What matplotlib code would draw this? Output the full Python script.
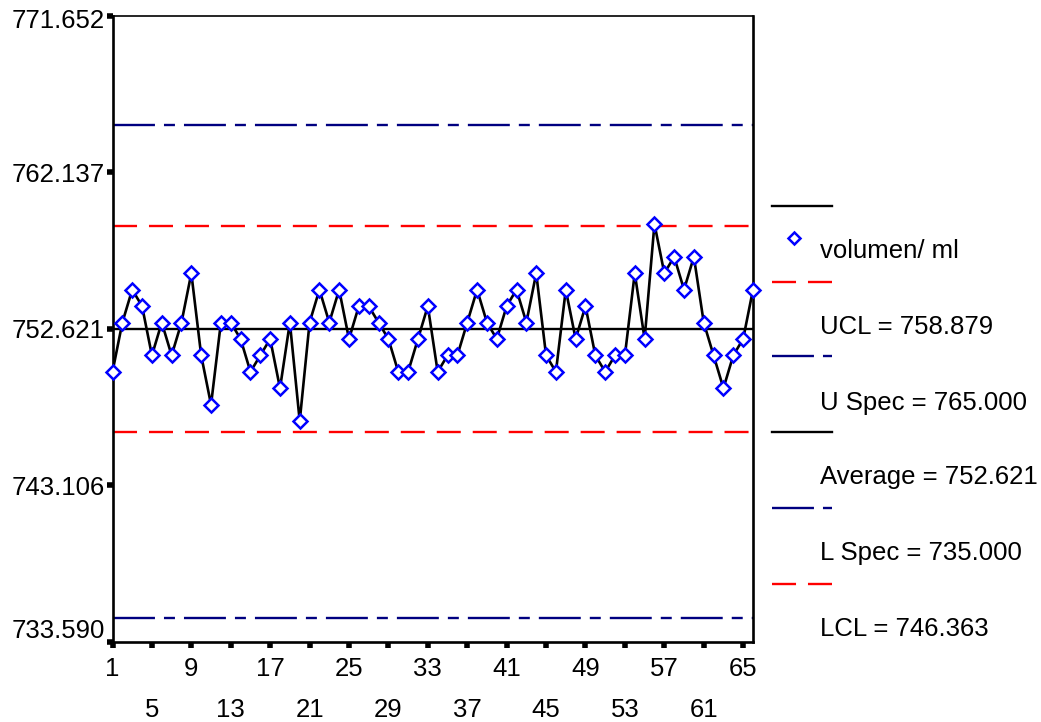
import matplotlib
matplotlib.use('Agg')
import matplotlib.pyplot as plt
from matplotlib.transforms import ScaledTranslation

plt.rcParams['font.family'] = ['Liberation Sans', 'DejaVu Sans']
plt.rcParams['lines.scale_dashes'] = False

# ---- data ----
samples = list(range(1, 67))
volumen = [750, 753, 755, 754, 751, 753, 751, 753, 756, 751,
           748, 753, 753, 752, 750, 751, 752, 749, 753, 747,
           753, 755, 753, 755, 752, 754, 754, 753, 752, 750,
           750, 752, 754, 750, 751, 751, 753, 755, 753, 752,
           754, 755, 753, 756, 751, 750, 755, 752, 754, 751,
           750, 751, 751, 756, 752, 759, 756, 757, 755, 757,
           753, 751, 749, 751, 752, 755]
ucl = 758.879
lcl = 746.363
average = 752.621
u_spec = 765.000
l_spec = 735.000
y_ticks = [733.590, 743.106, 752.621, 762.137, 771.652]
x_row1 = [1, 9, 17, 25, 33, 41, 49, 57, 65]
x_row2 = [5, 13, 21, 29, 37, 45, 53, 61]
series_label = "volumen/ ml"
ucl_label = "UCL = 758.879"
uspec_label = "U Spec = 765.000"
avg_label = "Average = 752.621"
lspec_label = "L Spec = 735.000"
lcl_label = "LCL = 746.363"

# ---- styles ----
NAVY = '#000080'
RED = '#ff0000'
BLUE = '#0000ff'
dashdot = (0, (30.2, 6.5, 7.9, 6.5))
dashed = (0, (17.3, 8.6))
FS = 18.5
LW = 1.7

W, H = 1041, 722
fig = plt.figure(figsize=(W / 100, H / 100), dpi=100)
ax = fig.add_axes([112.5 / W, (H - 641.5) / H, (753 - 112.5) / W, (641.5 - 16) / H])

ax.axhline(u_spec, color=NAVY, lw=LW, ls=dashdot, zorder=2)
ax.axhline(l_spec, color=NAVY, lw=LW, ls=dashdot, zorder=2)
ax.axhline(ucl, color=RED, lw=LW, ls=dashed, zorder=2)
ax.axhline(lcl, color=RED, lw=LW, ls=dashed, zorder=2)
ax.axhline(average, color='black', lw=LW, zorder=2)
ax.plot(samples, volumen, color='black', lw=1.9, zorder=3)
ax.plot(samples, volumen, ls='none', marker='D', ms=7.0, mew=1.8,
        mec=BLUE, mfc='white', zorder=4, clip_on=False)

ax.set_xlim(1, 66)
ax.set_ylim(733.590, 771.652)

for s in ['left', 'right', 'bottom']:
    ax.spines[s].set_linewidth(1.9)
ax.spines['top'].set_linewidth(1.2)

ax.set_yticks(y_ticks)
ax.set_yticklabels([f"{v:.3f}" for v in y_ticks])
ax.set_xticks(x_row1)
ax.set_xticklabels([str(v) for v in x_row1])
ax.set_xticks(x_row2, minor=True)
ax.set_xticklabels([str(v) for v in x_row2], minor=True)

ax.tick_params(axis='y', which='major', direction='out', length=4, width=4,
               labelsize=FS, pad=1.5, color='black')
ax.tick_params(axis='x', which='major', direction='out', length=4, width=4,
               labelsize=FS, pad=7, color='black')
ax.tick_params(axis='x', which='minor', direction='out', length=4, width=4,
               labelsize=FS, pad=37, color='black')

# nudge the extreme y labels like the original
yt = ax.yaxis.get_major_ticks()
yt[0].label1.set_transform(yt[0].label1.get_transform() +
                           ScaledTranslation(0, 13 / 100, fig.dpi_scale_trans))
yt[-1].label1.set_transform(yt[-1].label1.get_transform() +
                            ScaledTranslation(0, -3 / 100, fig.dpi_scale_trans))

# ---- legend (drawn in pixel coordinates on an overlay) ----
lg = fig.add_axes([0, 0, 1, 1], facecolor='none')
lg.set_xlim(0, W)
lg.set_ylim(H, 0)
lg.axis('off')

x0, x1 = 772, 832
tx = 820
sym_y = [206, 282, 356, 432, 508, 584]
txt_y = [258, 334, 410, 484, 560, 636]
styles = [dict(color='black', ls='-'), dict(color=RED, ls=dashed),
          dict(color=NAVY, ls=dashdot), dict(color='black', ls='-'),
          dict(color=NAVY, ls=dashdot), dict(color=RED, ls=dashed)]
for y, st in zip(sym_y, styles):
    lg.plot([x0, x1], [y, y], lw=LW, **st)
lg.plot([794], [238], ls='none', marker='D', ms=6.5, mew=1.8, mec=BLUE, mfc='white')
labels = [series_label, ucl_label, uspec_label, avg_label, lspec_label, lcl_label]
for y, t in zip(txt_y, labels):
    lg.text(tx, y, t, fontsize=FS, va='baseline', ha='left', color='black')

fig.savefig('out.png', dpi=100)
